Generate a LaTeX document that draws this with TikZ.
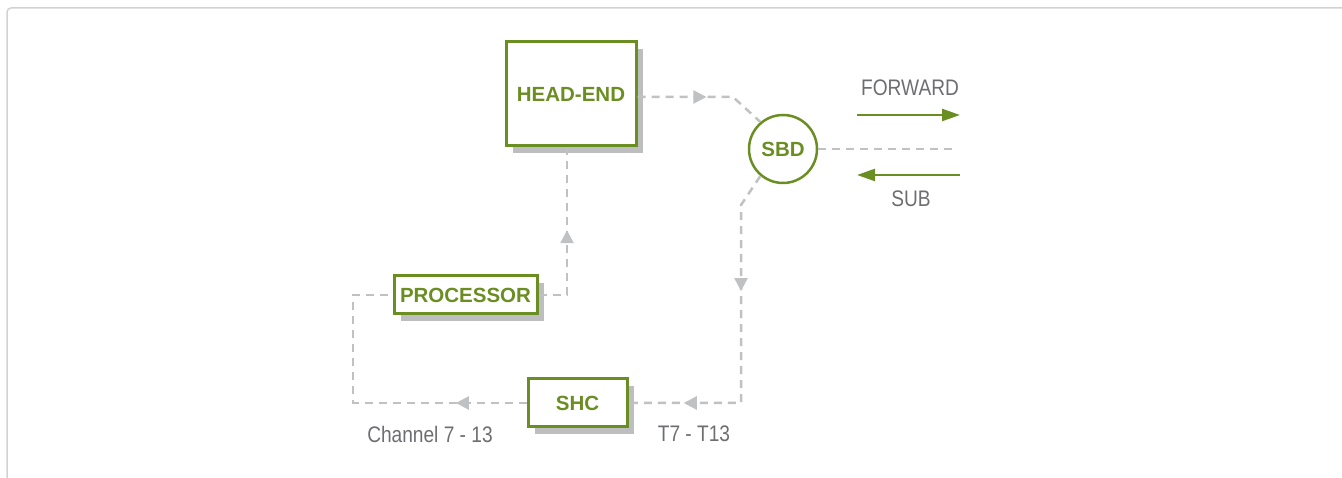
\documentclass[tikz,border=0pt]{standalone}
\usepackage{fontspec}
\setmainfont{Liberation Sans}
\newfontfamily\narrowfont[FakeStretch=0.85]{Liberation Sans}
\usetikzlibrary{positioning,shadows,arrows.meta,decorations.markings}
\definecolor{leaf}{RGB}{107,142,35}
\definecolor{dashgray}{RGB}{192,193,195}
\definecolor{shade}{RGB}{188,190,192}
\definecolor{txtgray}{RGB}{109,110,113}
\definecolor{framegray}{RGB}{210,210,210}

\begin{document}
\begin{tikzpicture}[x=1pt,y=1pt,
	box/.style={draw=leaf,line width=3pt,fill=white,text=leaf,inner sep=0pt,
		font=\bfseries\fontsize{20.5}{24}\selectfont,
		drop shadow={shadow xshift=7pt,shadow yshift=-7pt,fill=shade,opacity=1}},
	hub/.style={circle,draw=leaf,line width=2.5pt,fill=white,text=leaf,inner sep=0pt,
		minimum size=68pt,font=\bfseries\fontsize{20.5}{24}\selectfont},
	link/.style={draw=dashgray,line width=2.5pt,dash pattern=on 8pt off 6pt},
	tipat/.style={postaction={decorate,decoration={markings,
		mark=at position #1 with {\arrow[dashgray]{Triangle[length=13pt,width=13pt]}}}}},
	flow/.style={draw=leaf,line width=2.5pt,-{Triangle[length=18pt,width=12pt]}},
	tag/.style={text=txtgray,font=\narrowfont\fontsize{22.5}{26}\selectfont}]
	\useasboundingbox (0,0) rectangle (1342,478);
	\draw[framegray,line width=1.5pt,rounded corners=4pt] (7,-5) -- (7,470) -- (1360,470);

	\node[box,minimum width=130pt,minimum height=104pt] (head) at (571,384) {HEAD-END};
	\node[hub] (sbd) at (783,329) {SBD};
	\node[box,minimum width=143pt,minimum height=38pt] (proc) at (465.5,183) {PROCESSOR};
	\node[box,minimum width=99pt,minimum height=48pt] (shc) at (577.5,75) {SHC};

	\coordinate (tail) at (955,329);
	\coordinate (fwdA) at (857,363);
	\coordinate (fwdB) at (960,363);
	\coordinate (subA) at (960,303);
	\coordinate (subB) at (857,303);
	\node[tag] (fwd) at (910,390) {FORWARD};
	\node[tag] (sub) at (911,279) {SUB};
	\node[tag] (chan) at (430,44) {Channel 7 - 13};
	\node[tag] (taps) at (694,44) {T7 - T13};

	\draw[link,tipat=0.52] ([yshift=-3pt]head.east) -- (733,381) -- (sbd.130);
	\draw[link] (sbd.east) -- (tail);
	\draw[link,tipat=0.35,tipat=0.84] (sbd.230) -- (741,273) -- (741,75) -- (shc.east);
	\draw[link,tipat=0.22] (shc.west) -- (353,75) -- (353,183) -- (proc.west);
	\draw[link,tipat=0.53] (proc.east) -| ([xshift=-4pt]head.south);
	\draw[flow] (fwdA) -- (fwdB);
	\draw[flow] (subA) -- (subB);
\end{tikzpicture}
\end{document}
